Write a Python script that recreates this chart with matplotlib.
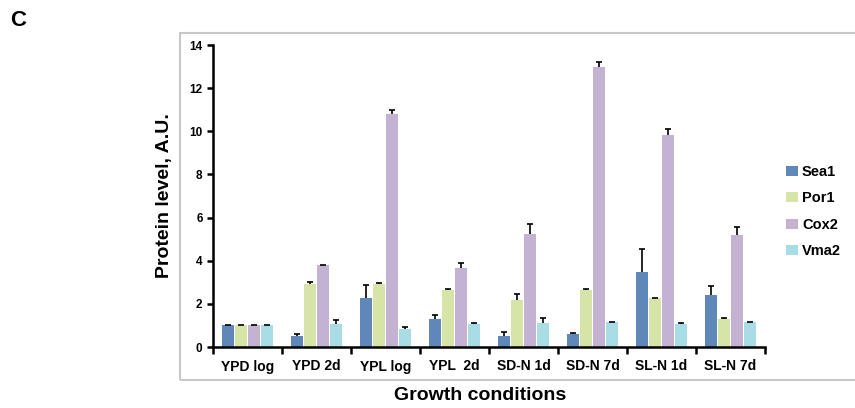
import numpy as np
import matplotlib
matplotlib.use("Agg")
import matplotlib.pyplot as plt
from matplotlib.patches import Rectangle

plt.rcParams['font.family'] = ['Liberation Sans', 'DejaVu Sans']

conditions = ['YPD log', 'YPD 2d', 'YPL log', 'YPL  2d', 'SD-N 1d', 'SD-N 7d', 'SL-N 1d', 'SL-N 7d']
proteins = ['Sea1', 'Por1', 'Cox2', 'Vma2']

# mean values and upper error per protein
sea1 = [1.0, 0.50, 2.25, 1.32, 0.50, 0.59, 3.48, 2.40]
sea1_err = [0.02, 0.12, 0.61, 0.15, 0.20, 0.04, 1.04, 0.45]
por1 = [1.0, 2.94, 2.94, 2.64, 2.20, 2.66, 2.25, 1.30]
por1_err = [0.02, 0.08, 0.04, 0.03, 0.28, 0.03, 0.03, 0.03]
cox2 = [1.0, 3.78, 10.80, 3.68, 5.26, 13.00, 9.82, 5.18]
cox2_err = [0.02, 0.03, 0.18, 0.22, 0.46, 0.20, 0.28, 0.39]
vma2 = [1.0, 1.08, 0.85, 1.05, 1.11, 1.15, 1.08, 1.15]
vma2_err = [0.02, 0.16, 0.07, 0.04, 0.25, 0.03, 0.03, 0.03]

values = [sea1, por1, cox2, vma2]
errors = [sea1_err, por1_err, cox2_err, vma2_err]
colors = ['#5f88b9', '#d6e4a8', '#c3b2d2', '#a8dde5']

fig = plt.figure(figsize=(8.55, 4.08), dpi=100)
# gray frame around chart area (right side runs off the picture)
fig.patches.append(Rectangle((180/855, 1-380/408), (870-180)/855, (380-33)/408,
                             transform=fig.transFigure, fill=False,
                             edgecolor='#c8c8c8', linewidth=1.5))

ax = fig.add_axes([213/855, 1-347/408, (765-213)/855, (347-45)/408])

x = np.arange(len(conditions))
step = 0.185
width = 0.17
for i in range(4):
    pos = x + 0.5 + (i - 1.5) * step
    bars = ax.bar(pos, values[i], width, color=colors[i], label=proteins[i],
                  yerr=[np.zeros(len(x)), errors[i]], capsize=2.5,
                  error_kw=dict(ecolor='black', elinewidth=1.2, capthick=1.2))
    # only the upper cap, like a "T"
    bars.errorbar.lines[1][0].set_visible(False)

ax.set_xlim(0, len(conditions))
ax.set_ylim(0, 14)
ax.set_yticks(range(0, 15, 2))
ax.set_xticks(np.arange(len(conditions) + 1))
ax.set_xticklabels([])
ax.set_xticks(x + 0.5, minor=True)
ax.set_xticklabels(conditions, minor=True, fontweight='bold', fontsize=10)
ax.tick_params(axis='x', which='minor', length=0, pad=9)
ax.tick_params(axis='x', which='major', length=5, width=1.8, direction='out')
ax.tick_params(axis='y', length=4, width=1.8, direction='out', labelsize=8.5)
for lbl in ax.get_yticklabels():
    lbl.set_fontweight('bold')
ax.spines['top'].set_visible(False)
ax.spines['right'].set_visible(False)
ax.spines['left'].set_linewidth(1.8)
ax.spines['bottom'].set_linewidth(1.8)

ax.set_ylabel('Protein level, A.U.', fontsize=14, fontweight='bold', labelpad=12)
fig.text(480/855, 1-395/408, 'Growth conditions', fontsize=14, fontweight='bold',
         ha='center', va='center')
fig.text(10/855, 1-20/408, 'C', fontsize=16, fontweight='bold', ha='left', va='center')

leg = fig.legend(loc='upper left', bbox_to_anchor=(786/855, 1-165/408), frameon=False,
                 prop=dict(weight='bold', size=10.5), handlelength=0.8, handleheight=0.7,
                 labelspacing=0.85, handletextpad=0.3, borderaxespad=0, borderpad=0)

fig.savefig('out.png', dpi=100)
